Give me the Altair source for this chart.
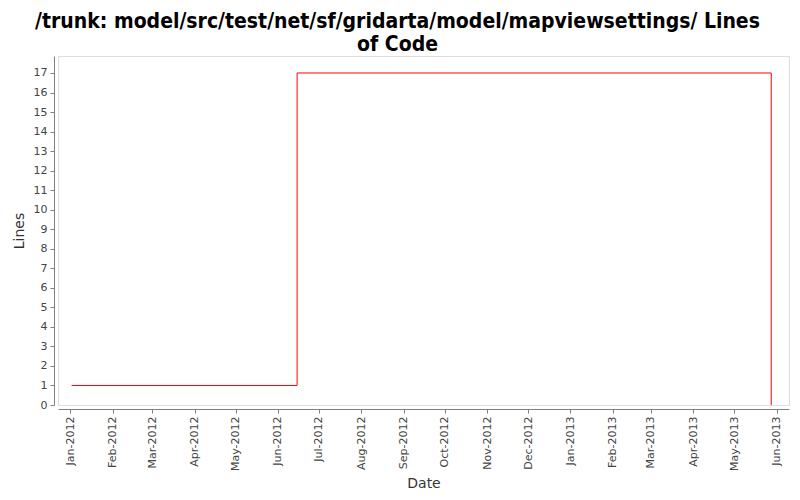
import altair as alt
import pandas as pd

dates = ["2012-01-02", "2012-06-15", "2013-05-28"]
lines = [1, 17, 0]

month_ticks = [(2012, m) for m in range(1, 13)] + [(2013, m) for m in range(1, 7)]
y_ticks = list(range(0, 18))

df = pd.DataFrame({"date": dates, "lines": lines})

font = "DejaVu Sans"

chart = alt.Chart(df).mark_line(
    interpolate="step-after", color="#ff0000", strokeWidth=1
).encode(
    x=alt.X(
        "date:T",
        title="Date",
        scale=alt.Scale(type="utc", domain=[alt.DateTime(year=2011, month=12, date=23, utc=True),
                                            alt.DateTime(year=2013, month=6, date=10, utc=True)]),
        axis=alt.Axis(
            values=[alt.DateTime(year=y, month=m, date=1, utc=True) for y, m in month_ticks],
            labelExpr="utcFormat(datum.value, '%b-%Y')", labelAngle=270, grid=False,
            offset=4, domainColor="#808080", tickColor="#808080", tickSize=4,
            labelFont=font, labelFontSize=11, labelColor="#444444", labelPadding=3,
            titleFont=font, titleFontSize=14, titleFontWeight="normal", titleColor="#333333",
            titlePadding=6, labelOverlap=False,
        ),
    ),
    y=alt.Y(
        "lines:Q",
        title="Lines",
        scale=alt.Scale(domain=[0, 17.87], nice=False, zero=True),
        axis=alt.Axis(
            values=y_ticks, grid=False, offset=4, domainColor="#808080", tickColor="#808080",
            tickSize=4, labelFont=font, labelFontSize=11, labelColor="#444444", labelPadding=3,
            titleFont=font, titleFontSize=14, titleFontWeight="normal", titleColor="#333333",
            titlePadding=7,
        ),
    ),
).properties(
    width=731,
    height=349,
    autosize=alt.AutoSizeParams(type="none"),
    padding={"left": 50, "top": 48, "right": 3, "bottom": 87},
    title=alt.TitleParams(
        text=["/trunk: model/src/test/net/sf/gridarta/model/mapviewsettings/ Lines", "of Code"],
        font="DejaVu Sans Condensed, DejaVu Sans",
        fontSize=21, fontWeight="bold", color="#000000", anchor="middle",
        dx=-26, offset=1, lineHeight=23,
    ),
).configure_view(stroke="#808080", strokeWidth=1).configure(background="white")

chart.save("out.html", embed_options={"renderer": "svg", "actions": False})
